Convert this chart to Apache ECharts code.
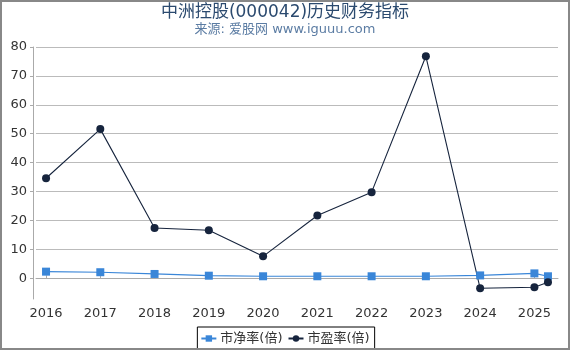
<!DOCTYPE html>
<html>
<head>
<meta charset="utf-8">
<script src="https://cdn.jsdelivr.net/npm/echarts@6/dist/echarts.min.js"></script>
<style>
  html, body { margin: 0; padding: 0; background: #fff; }
  #chart { width: 566px; height: 346px; border: 2px solid #888; }
</style>
</head>
<body>
<div id="chart"></div>
<script>
// 时间点（年份，最后一个为2025年季度数据）
var dates = [2016, 2017, 2018, 2019, 2020, 2021, 2022, 2023, 2024, 2025, 2025.25];
var pbData = [2.3, 2.1, 1.5, 0.9, 0.7, 0.7, 0.7, 0.7, 1.0, 1.7, 0.7];
var peData = [34.6, 51.6, 17.4, 16.6, 7.6, 21.7, 29.8, 76.8, -3.45, -3.1, -1.4];
var xTicks = [2016, 2017, 2018, 2019, 2020, 2021, 2022, 2023, 2024, 2025];
var yTicks = [0, 10, 20, 30, 40, 50, 60, 70, 80];

function pairs(vals) {
  return dates.map(function (d, i) { return [d, vals[i]]; });
}

var font = '"DejaVu Sans", "Noto Sans CJK SC", sans-serif';

var option = {
  animation: false,
  title: {
    text: '中洲控股(000042)历史财务指标',
    subtext: '来源: 爱股网 www.iguuu.com',
    left: 'center',
    top: -3,
    itemGap: 2,
    textStyle: { fontSize: 17, fontWeight: 'normal', color: '#2b4a6f', fontFamily: font },
    subtextStyle: { fontSize: 13, color: '#5b7ca3', fontFamily: font }
  },
  legend: {
    bottom: -2,
    left: 'center',
    borderColor: '#000',
    borderWidth: 1,
    padding: [5, 5, 5, 3],
    itemWidth: 15,
    itemHeight: 8,
    itemGap: 5,
    textStyle: { fontSize: 13, color: '#333', fontFamily: font, padding: [0, 0, 0, -1] },
    data: ['市净率(倍)', '市盈率(倍)']
  },
  grid: { left: 34, right: 10, top: 45, bottom: 49 },
  xAxis: {
    type: 'value',
    min: 2015.815,
    max: 2025.435,
    offset: 4,
    axisLine: { lineStyle: { color: '#aaa' } },
    axisTick: { show: true, inside: true, length: 3, customValues: xTicks, lineStyle: { color: '#aaa' } },
    axisLabel: {
      customValues: xTicks, fontSize: 13, color: '#333', fontFamily: font, margin: 4,
      formatter: function (v) { return String(v); }
    },
    splitLine: { show: false }
  },
  yAxis: {
    type: 'value',
    min: -7.16,
    max: 80,
    offset: 3,
    axisLine: { show: true, lineStyle: { color: '#aaa' } },
    axisTick: { show: true, length: 3, customValues: yTicks, lineStyle: { color: '#aaa' } },
    axisLabel: { customValues: yTicks, fontSize: 13, color: '#333', fontFamily: font, margin: 6 },
    splitLine: { show: true, lineStyle: { color: '#bbb', width: 1 } }
  },
  series: [
    {
      name: '市净率(倍)',
      type: 'line',
      data: pairs(pbData),
      symbol: 'rect',
      symbolSize: 8,
      itemStyle: { color: '#3a86d8' },
      lineStyle: { color: '#3a86d8', width: 1.2 }
    },
    {
      name: '市盈率(倍)',
      type: 'line',
      data: pairs(peData),
      symbol: 'circle',
      symbolSize: 8,
      itemStyle: { color: '#16243d' },
      lineStyle: { color: '#16243d', width: 1.1 }
    }
  ]
};

var myChart = echarts.init(document.getElementById('chart'));
myChart.setOption(option);
</script>
</body>
</html>
